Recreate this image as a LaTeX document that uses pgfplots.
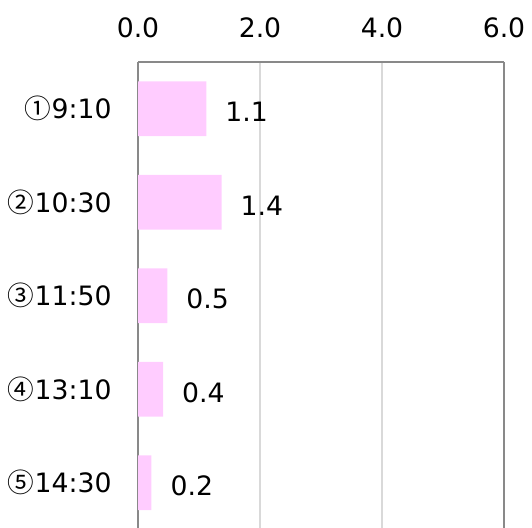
\documentclass[border=0pt]{standalone}
\usepackage{fontspec}
\setmainfont{DejaVu Sans}
\newfontfamily\cjk{Noto Sans CJK JP}
\usepackage{pgfplots}
\pgfplotsset{compat=1.18}
\usetikzlibrary{calc}

\definecolor{barpink}{HTML}{FFCCFF}
\definecolor{framegray}{HTML}{898989}
\definecolor{gridgray}{HTML}{D9D9D9}

\begin{document}
\fontsize{20}{24}\selectfont
\begin{tikzpicture}
\begin{axis}[
    xbar,
    bar width=41pt,
    scale only axis,
    width=274.5pt,
    height=350.6pt,
    xmin=0, xmax=6,
    ymin=-0.5, ymax=4.5,
    y dir=reverse,
    axis x line*=top,
    axis y line*=box,
    axis line style={framegray, line width=1.5pt},
    xtick={0,2,4,6},
    ytick={0,1,2,3,4},
    yticklabels={{\cjk ①}9:10,{\cjk ②}10:30,{\cjk ③}11:50,{\cjk ④}13:10,{\cjk ⑤}14:30},
    major tick length=0pt,
    xmajorgrids,
    grid style={gridgray, line width=0.9pt},
    xticklabel style={yshift=11pt, /pgf/number format/fixed,
        /pgf/number format/fixed zerofill, /pgf/number format/precision=1},
    yticklabel style={xshift=-13pt},
    /pgf/number format/assume math mode=true,
    nodes near coords,
    nodes near coords style={anchor=west, xshift=7.5pt, yshift=-2.5pt, text=black,
        font=\fontsize{20}{24}\selectfont,
        /pgf/number format/fixed, /pgf/number format/fixed zerofill,
        /pgf/number format/precision=1},
]
\addplot[fill=barpink, draw=none] coordinates {
    (1.12,0) (1.37,1) (0.48,2) (0.41,3) (0.22,4)
};
\end{axis}
\pgfresetboundingbox
\useasboundingbox ($(current axis.north west)+(-103.5pt,46.5pt)$)
    rectangle ($(current axis.south east)+(21pt,1.5pt)$);
\end{tikzpicture}
\end{document}
